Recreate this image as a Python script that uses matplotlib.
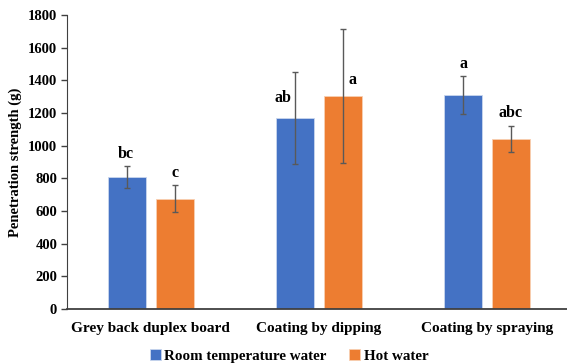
import matplotlib.pyplot as plt
import numpy as np

# data
categories = ["Grey back duplex board", "Coating by dipping", "Coating by spraying"]
room_temp = [810, 1170, 1310]
room_temp_err = [67, 280, 118]
hot_water = [675, 1303, 1041]
hot_water_err = [83, 410, 80]
room_letters = ["bc", "ab", "a"]
hot_letters = ["c", "a", "abc"]

BLUE = "#4472C4"
ORANGE = "#ED7D31"

plt.rcParams["font.family"] = ["Liberation Serif", "DejaVu Serif"]
plt.rcParams["font.weight"] = "bold"

fig = plt.figure(figsize=(5.67, 3.64), dpi=100)
ax = fig.add_axes([0.118, 0.151, 0.889, 0.808])

x = np.arange(len(categories))
w = 0.226
off = 0.142

err_kw = dict(ecolor="#595959", elinewidth=1.0, capsize=2.5, capthick=1.0)
b1 = ax.bar(x - off, room_temp, w, yerr=room_temp_err, color=BLUE,
            edgecolor="#c9d6ee", linewidth=0.6, error_kw=err_kw,
            label="Room temperature water")
b2 = ax.bar(x + off, hot_water, w, yerr=hot_water_err, color=ORANGE,
            edgecolor="#f8cfb2", linewidth=0.6, error_kw=err_kw,
            label="Hot water")

# letter placement: (anchor at error top?, dx px, dy px)
room_place = [(True, -1, 12), (False, -12, 20), (True, 0, 12)]
hot_place = [(True, 0, 12), (False, 10, 16), (True, 0, 13)]

def put_letters(xs, vals, errs, letters, places):
    for xi, v, e, t, (use_err, dx, dy) in zip(xs, vals, errs, letters, places):
        y = v + e if use_err else v
        ax.annotate(t, (xi, y), xytext=(dx * 0.72, dy * 0.72),
                    textcoords="offset points", ha="center", va="center",
                    fontsize=11.5, fontweight="bold")

put_letters(x - off, room_temp, room_temp_err, room_letters, room_place)
put_letters(x + off, hot_water, hot_water_err, hot_letters, hot_place)

ax.set_xlim(-0.5, 2.5)
ax.set_ylim(0, 1800)
ax.set_yticks(range(0, 1801, 200))
ax.set_xticks(x)
ax.set_xticklabels(categories, fontsize=11, fontweight="bold")
ax.tick_params(axis="x", length=0, pad=9)
ax.tick_params(axis="y", labelsize=10.5, length=4, width=1, color="#404040", pad=3)
for lab in ax.get_yticklabels():
    lab.set_fontweight("bold")

ax.spines["top"].set_visible(False)
ax.spines["right"].set_visible(False)
ax.spines["left"].set_color("#404040")
ax.spines["bottom"].set_color("#404040")
ax.spines["bottom"].set_linewidth(1.3)

ax.set_ylabel("Penetration strength (g)", fontsize=10.5, fontweight="bold", labelpad=4)

fig.legend(handles=[b1, b2], loc="center", bbox_to_anchor=(0.51, 0.022),
           ncol=2, frameon=False, handlelength=0.7,
           handleheight=0.7, handletextpad=0.25, columnspacing=1.5,
           prop={"weight": "bold", "size": 10.8})

fig.savefig("out.png", dpi=100)
